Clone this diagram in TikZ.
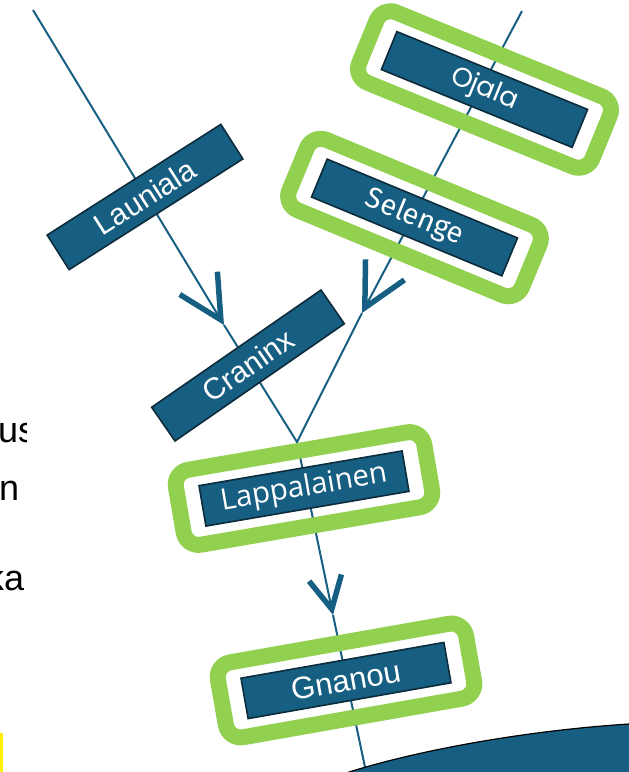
\documentclass[tikz,border=0pt]{standalone}
\usepackage{fontspec}
\setmainfont{Liberation Sans}
\newfontfamily\popfont{Poppins}
\newfontfamily\firafont{Fira Sans}
\newfontfamily\openfont{Open Sans}
\usetikzlibrary{arrows.meta,backgrounds}

\definecolor{deepblue}{HTML}{175F82}
\definecolor{edgeblue}{HTML}{0C2B3B}
\definecolor{leafgreen}{HTML}{92D050}

\begin{document}
\begin{tikzpicture}[x=1pt,y=-1pt,
  namebox/.style={draw=edgeblue, line width=1.6pt, fill=deepblue, text=white,
    minimum width=206pt, minimum height=41pt, inner sep=0pt,
    font=\fontsize{30}{32}\selectfont},
  ring/.style={draw=leafgreen, line width=16pt, rounded corners=15pt,
    minimum width=252pt, minimum height=76pt, inner sep=0pt},
  link/.style={draw=deepblue, line width=2pt},
  bigtip/.style={-{Straight Barb[length=43pt,width=44pt,line width=5.5pt]}},
  smalltip/.style={-{Straight Barb[length=32pt,width=33pt,line width=5.5pt]}},
  sidetext/.style={anchor=base west, inner sep=0pt, font=\fontsize{36}{40}\selectfont},
]
\useasboundingbox (0,0) rectangle (629,772);

% free ends and joints of the tree
\coordinate (top1) at (33,10);
\coordinate (top2) at (522,11);
\coordinate (join) at (297,442);
\coordinate (tip1) at (224,325);
\coordinate (tip2) at (362,313);
\coordinate (tip3) at (333,615);
\coordinate (foot) at (366,772);

% green highlight frames
\node[ring, rotate=-22.2] (ojring) at (484.5,89.5) {};
\node[ring, rotate=-22.5] (sering) at (414.5,217.5) {};
\node[ring, rotate=9.7] (laring) at (304,488.5) {};
\node[ring, rotate=10] (gnring) at (346,680.5) {};

% name boxes
\node[namebox, rotate=32.5] (lau) at (145,197) {Launiala};
\node[namebox, rotate=-22.2, font=\popfont\fontsize{27}{30}\selectfont] (oja) at (484.5,89.5) {Ojala};
\node[namebox, rotate=-22.5, font=\firafont\fontsize{29}{32}\selectfont] (sel) at (414.5,217.5) {Selenge};
\node[namebox, rotate=34.7] (cra) at (248,365.5) {Craninx};
\node[namebox, rotate=9.7, font=\openfont\fontsize{29.5}{32}\selectfont] (lap) at (304,488.5) {Lappalainen};
\node[namebox, rotate=10, font=\fontsize{31}{33}\selectfont] (gna) at (346,680.5) {Gnanou};

% connectors run underneath the boxes
\begin{scope}[on background layer]
  \draw[link, bigtip] (top1) -- (tip1);
  \draw[link] (tip1) -- (join);
  \draw[link, bigtip] (top2) -- (tip2);
  \draw[link] (tip2) -- (join);
  \draw[link, smalltip] (join) -- (tip3);
  \draw[link] (tip3) -- (foot);
\end{scope}

% ground shape at the lower right
\fill[deepblue] (343,774) .. controls (410,752) and (520,731) .. (629,724) -- (629,772) -- (343,772) -- cycle;
\draw[black, line width=1.2pt] (343,774) .. controls (410,752) and (520,731) .. (629,724);

% text running off the left edge
\begin{scope}
  \clip (0,380) rectangle (26,460);
  \node[sidetext] (t1) at (-2,442) {us};
\end{scope}
\node[sidetext] (t2) at (-1,500) {n};
\node[sidetext] (t3) at (-14,590) {ka};

\fill[yellow] (0,733) rectangle (3,772);
\end{tikzpicture}
\end{document}
